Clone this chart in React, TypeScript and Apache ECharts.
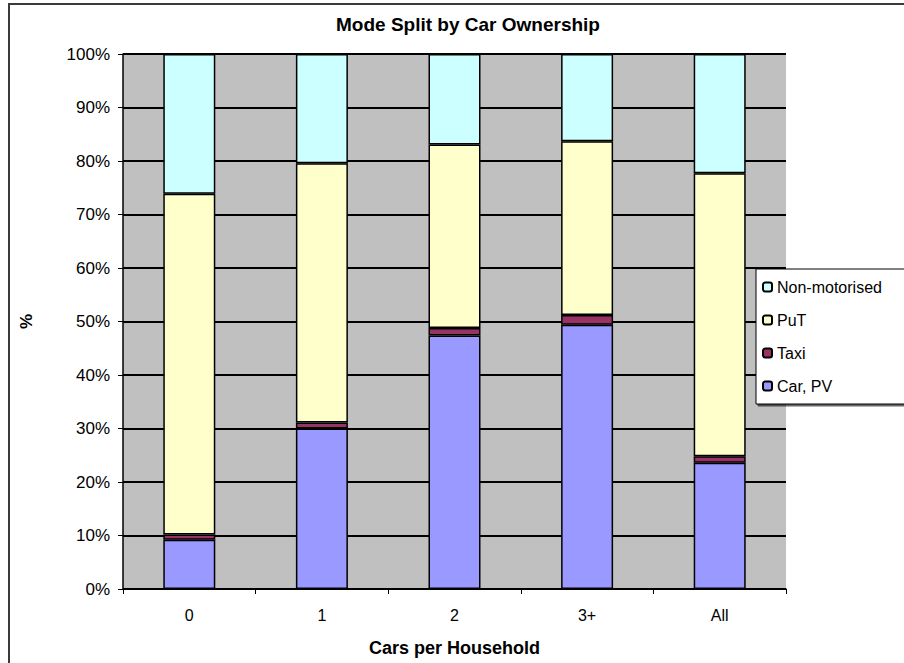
import React, { useEffect, useRef } from "react";
import * as echarts from "echarts";

const categories = ["0", "1", "2", "3+", "All"];
const carPV = [9.2, 30.0, 47.4, 49.4, 23.6];
const taxi = [1.0, 1.1, 1.4, 1.8, 1.2];
const puT = [63.7, 48.5, 34.3, 32.5, 52.9];
const nonMotorised = [26.1, 20.4, 16.9, 16.3, 22.3];
const legendOrder = ["Non-motorised", "PuT", "Taxi", "Car, PV"];

const FONT = "'Liberation Sans', Arial, sans-serif";

export default function App() {
  const ref = useRef<HTMLDivElement>(null);
  useEffect(() => {
    if (!ref.current) return;
    const chart = echarts.init(ref.current, undefined, { renderer: "svg" });
    const mk = (name: string, data: number[], color: string) => ({
      name,
      type: "bar",
      stack: "total",
      data,
      barWidth: 52,
      itemStyle: { color, borderColor: "#000", borderWidth: 1.5 },
      emphasis: { disabled: true },
    });
    chart.setOption({
      animation: false,
      backgroundColor: "#fff",
      textStyle: { fontFamily: FONT, color: "#000" },
      title: {
        text: "Mode Split by Car Ownership",
        left: 463,
        top: 10,
        textAlign: "center",
        textStyle: { fontFamily: FONT, fontSize: 19, fontWeight: "bold", color: "#000" },
      },
      graphic: [
        {
          type: "rect",
          shape: { x: 9, y: 4, width: 1000, height: 1000 },
          style: { fill: "none", stroke: "#3a3a3a", lineWidth: 2 },
          z: 100,
          silent: true,
        },
      ],
      grid: {
        left: 123,
        top: 54,
        width: 663,
        height: 535,
        show: true,
        backgroundColor: "#c0c0c0",
        borderWidth: 0,
      },
      legend: {
        data: legendOrder,
        orient: "vertical",
        left: 756,
        top: 269,
        itemWidth: 9,
        itemHeight: 9,
        itemGap: 17,
        padding: [10, 40, 10, 6],
        backgroundColor: "#fff",
        borderColor: "#000",
        borderWidth: 1,
        shadowColor: "rgba(0,0,0,0.6)",
        shadowOffsetX: 2,
        shadowOffsetY: 2,
        shadowBlur: 0,
        textStyle: { fontFamily: FONT, fontSize: 16, color: "#000" },
        selectedMode: false,
      },
      xAxis: {
        type: "category",
        data: categories,
        name: "Cars per Household",
        nameLocation: "middle",
        nameGap: 50,
        nameTextStyle: { fontFamily: FONT, fontSize: 18, fontWeight: "bold", color: "#000" },
        axisLine: { lineStyle: { color: "#000", width: 1.5 } },
        axisTick: { show: true, length: 5, lineStyle: { color: "#000" } },
        axisLabel: { fontFamily: FONT, fontSize: 16, color: "#000", margin: 18 },
        splitLine: { show: false },
      },
      yAxis: {
        type: "value",
        min: 0,
        max: 100,
        interval: 10,
        name: "%",
        nameLocation: "middle",
        nameGap: 88,
        nameRotate: 90,
        nameTextStyle: { fontFamily: FONT, fontSize: 17, fontWeight: "bold", color: "#000" },
        axisLine: { show: true, lineStyle: { color: "#000", width: 1.5 } },
        axisTick: { show: true, length: 5, lineStyle: { color: "#000" } },
        axisLabel: { fontFamily: FONT, fontSize: 17, color: "#000", margin: 13, formatter: "{value}%" },
        splitLine: { show: true, lineStyle: { color: "#000", width: 1.8 } },
      },
      series: [
        mk("Car, PV", carPV, "#9999ff"),
        mk("Taxi", taxi, "#993366"),
        mk("PuT", puT, "#ffffcc"),
        mk("Non-motorised", nonMotorised, "#ccffff"),
      ],
    });
    return () => chart.dispose();
  }, []);
  return (
    <div
      ref={ref}
      style={{ position: "fixed", left: 0, top: 0, width: 904, height: 663 }}
    />
  );
}
